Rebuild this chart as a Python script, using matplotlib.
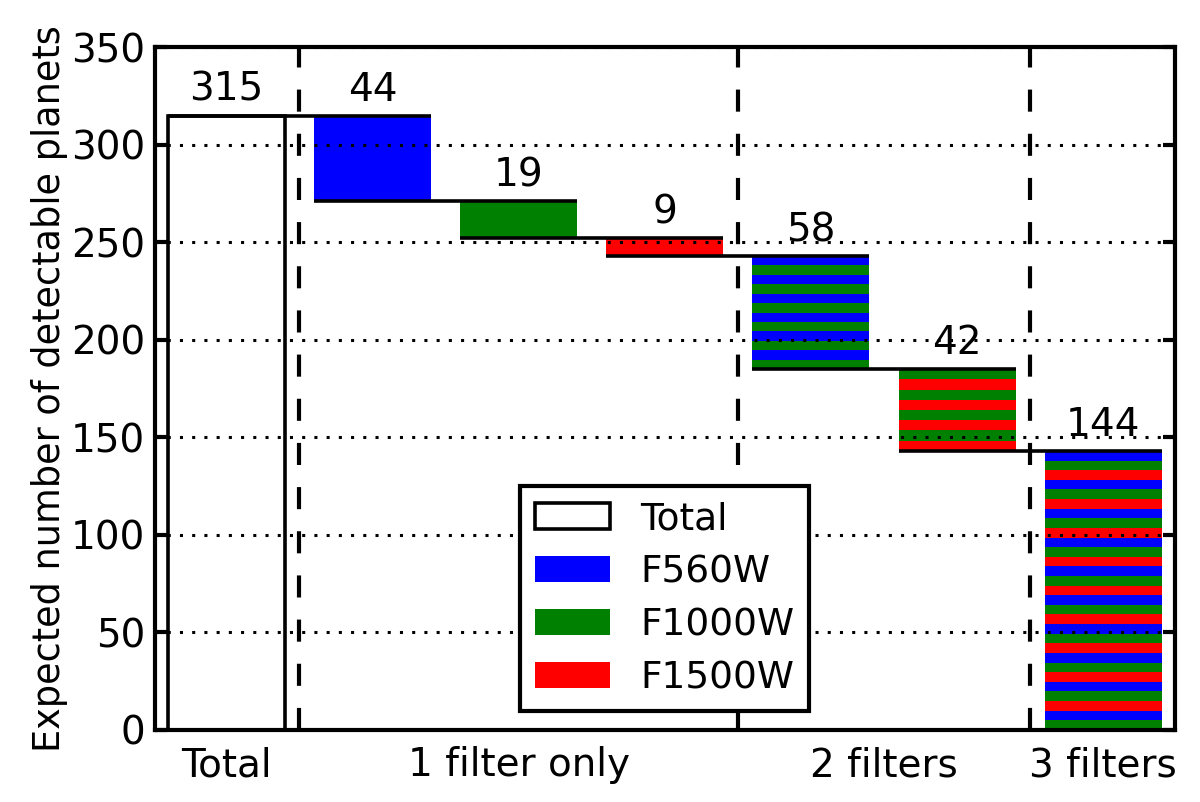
import numpy as np
import matplotlib
matplotlib.use('Agg')
import matplotlib.pyplot as plt

# Datos del grafico
group_names = ['Total', '1 filter only', '2 filters', '3 filters']
group_sizes = [1, 3, 2, 1]
bar_values = [315, 44, 19, 9, 58, 42, 144]
bar_filters = [[], ['F560W'], ['F1000W'], ['F1500W'],
               ['F560W', 'F1000W'], ['F1000W', 'F1500W'],
               ['F560W', 'F1000W', 'F1500W']]
filter_colors = {'F560W': 'blue', 'F1000W': 'green', 'F1500W': 'red'}

plt.rcParams['font.family'] = ['DejaVu Sans']
plt.rcParams['font.size'] = 14

fig, ax = plt.subplots(figsize=(6, 4.01), dpi=200)
fig.subplots_adjust(left=0.129, right=0.979, top=0.941, bottom=0.09)

w = 0.8
n_bars = len(bar_values)

# parte superior de cada barra (cascada)
tops = [bar_values[0]]
for i in range(1, n_bars):
    tops.append(bar_values[0] - sum(bar_values[1:i]))

for i, v in enumerate(bar_values):
    top = tops[i]
    filt = bar_filters[i]
    if i == 0:
        ax.bar(i, v, w, facecolor='white', edgecolor='k', linewidth=1.3,
               label='Total', zorder=1)
    elif len(filt) == 1:
        ax.bar(i, v, w, bottom=top - v, color=filter_colors[filt[0]],
               linewidth=0, label=filt[0], zorder=1)
    else:
        bottom = max(top - v, 0)
        n = int(round(v / 5.0))
        h = (top - bottom) / n
        ys = [top - (k + 1) * h for k in range(n)]
        cols = [filter_colors[filt[k % len(filt)]] for k in range(n)]
        ax.bar([i] * n, [h] * n, w, bottom=ys, color=cols, linewidth=0,
               antialiased=False, zorder=1)
    ax.annotate(str(v), (i, top), xytext=(0, 2.5), textcoords='offset points',
                ha='center', va='bottom')

# lineas de conexion
for i in range(n_bars - 1):
    ax.hlines(tops[i + 1], i - w / 2, i + 1 + w / 2, color='k',
              linewidth=1.3, zorder=3)

# separadores de grupos
edges = np.cumsum(group_sizes)
for e in edges[:-1]:
    ax.axvline(e - 0.5, color='k', linestyle=(0, (5.3, 5.3)), linewidth=1.5,
               zorder=2)

centers = [(e - s + e - 1) / 2.0 for e, s in zip(edges, group_sizes)]
ax.set_xticks(centers)
ax.set_xticklabels(group_names)
ax.tick_params(axis='x', length=0, pad=6)

ax.set_xlim(-0.49, n_bars - 0.51)
ax.set_ylim(0, 350)
ax.set_yticks(range(0, 351, 50))
ax.tick_params(axis='y', direction='in', length=4.3, width=1.5, right=True,
               pad=3.5)

ax.yaxis.grid(True, color='k', linestyle=(0, (1, 3)), linewidth=1.1)
ax.set_axisbelow(False)
for s in ax.spines.values():
    s.set_linewidth(1.5)

ax.set_ylabel('Expected number of detectable planets', fontsize=13.2,
              labelpad=1)

leg = ax.legend(loc='lower center', fancybox=False, edgecolor='k',
                framealpha=1, handlelength=2.0, borderaxespad=0.5,
                fontsize=13.5, labelspacing=0.45)
leg.get_frame().set_linewidth(1.5)

fig.savefig('out.png', dpi=200)
